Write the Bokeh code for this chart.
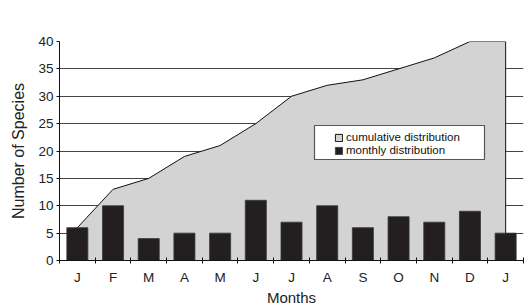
from bokeh.plotting import figure
from bokeh.models import Range1d, FixedTicker, Legend, LegendItem, BoxAnnotation
from bokeh.embed import file_html
from bokeh.resources import INLINE

# ---- data ----
months = ["J", "F", "M", "A", "M", "J", "J", "A", "S", "O", "N", "D", "J"]
monthly = [6, 10, 4, 5, 5, 11, 7, 10, 6, 8, 7, 9, 5]
cumulative = [6, 13, 15, 19, 21, 25, 30, 32, 33, 35, 37, 40, 40]
y_ticks = [0, 5, 10, 15, 20, 25, 30, 35, 40]
y_max = 40

FONT = "Liberation Sans"

xc = [i + 0.5 for i in range(len(months))]
bounds = list(range(len(months) + 1))

p = figure(width=525, height=308, output_backend="svg", toolbar_location=None,
           x_range=Range1d(0, len(months)), y_range=Range1d(0, y_max),
           min_border_left=59, min_border_right=2, min_border_top=41, min_border_bottom=48)
p.outline_line_color = None
p.background_fill_color = "white"

# cumulative area (polygon closed down to the axis)
px = [xc[0]] + xc + [xc[-1]]
py = [0] + cumulative + [0]
area = p.patch(px, py, fill_color="#d3d3d3", line_color="#111111", line_width=1)

bars = p.vbar(x=xc, top=monthly, width=0.59, bottom=0,
              fill_color="#231f20", line_color="#3a3a3a", line_width=0.8)

# axes
p.xgrid.visible = False
p.ygrid.grid_line_color = "#444444"
p.ygrid.grid_line_width = 1

p.xaxis.ticker = FixedTicker(ticks=xc, minor_ticks=bounds)
p.xaxis.major_label_overrides = {x: m for x, m in zip(xc, months)}
p.xaxis.major_tick_line_color = None
p.xaxis.major_tick_out = 0
p.xaxis.major_tick_in = 0
p.xaxis.minor_tick_line_color = "#111111"
p.xaxis.minor_tick_in = 3
p.xaxis.minor_tick_out = 3
p.xaxis.axis_line_color = "#111111"
p.xaxis.major_label_standoff = 6
p.xaxis.axis_label = "Months"
p.xaxis.axis_label_standoff = 1

p.yaxis.ticker = FixedTicker(ticks=y_ticks)
p.yaxis.major_tick_in = 0
p.yaxis.major_tick_out = 3
p.yaxis.minor_tick_line_color = None
p.yaxis.axis_line_color = "#111111"
p.yaxis.major_tick_line_color = "#111111"
p.yaxis.major_label_standoff = 3
p.yaxis.axis_label = "Number of Species"
p.yaxis.axis_label_standoff = 8

for ax in (p.xaxis[0], p.yaxis[0]):
    ax.major_label_text_font = FONT
    ax.major_label_text_font_size = "13.5px"
    ax.major_label_text_color = "#222222"
    ax.axis_label_text_font = FONT
    ax.axis_label_text_font_style = "normal"
    ax.axis_label_text_color = "#222222"
p.xaxis.axis_label_text_font_size = "15px"
p.yaxis.axis_label_text_font_size = "16px"

# legend box (screen units, relative to the plot frame)
box = BoxAnnotation(left=255, right=425, top=135, bottom=101,
                    left_units="screen", right_units="screen",
                    top_units="screen", bottom_units="screen",
                    fill_color="white", fill_alpha=1.0,
                    line_color="#555555", line_alpha=1.0, line_width=1.2)
p.add_layout(box)

legend_items = [("cumulative distribution", area, 117), ("monthly distribution", bars, 104)]
for label, rend, ypos in legend_items:
    lg = Legend(items=[LegendItem(label=label, renderers=[rend])],
                location=(275, ypos), padding=0, margin=0, spacing=0,
                glyph_width=9, glyph_height=9, label_standoff=3, label_height=12,
                border_line_color=None, background_fill_alpha=0,
                label_text_font=FONT, label_text_font_size="11.5px",
                label_text_color="#111111")
    p.add_layout(lg)

open("out.html", "w").write(file_html(p, INLINE))
